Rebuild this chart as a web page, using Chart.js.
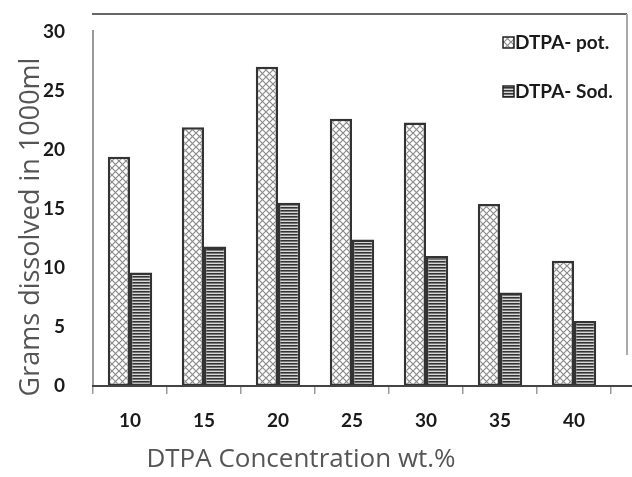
<!DOCTYPE html>
<html>
<head>
<meta charset="utf-8">
<script src="https://cdn.jsdelivr.net/npm/chart.js@4"></script>
<style>
  html, body { margin: 0; padding: 0; background: #fff; }
  #wrap { width: 632px; height: 477px; }
</style>
</head>
<body>
<div id="wrap"><canvas id="chart" width="632" height="477"></canvas></div>
<script>
// data
const concentrations = ["10", "15", "20", "25", "30", "35", "40"];
const potValues = [19.4, 21.9, 27.0, 22.6, 22.3, 15.4, 10.6];
const sodValues = [9.6, 11.8, 15.5, 12.4, 11.0, 7.9, 5.5];
const yTicks = [0, 5, 10, 15, 20, 25, 30];
const seriesNames = ["DTPA- pot.", "DTPA- Sod."];
const xTitle = "DTPA Concentration wt.%";
const yTitle = "Grams dissolved in 1000ml";

// hatch fills
function crossHatch() {
    const c = document.createElement("canvas");
    c.width = 7; c.height = 7;
    const g = c.getContext("2d");
    g.fillStyle = "#fff";
    g.fillRect(0, 0, 7, 7);
    g.strokeStyle = "#8a8a8a";
    g.lineWidth = 1.2;
    g.beginPath();
    g.moveTo(0, 0); g.lineTo(7, 7);
    g.moveTo(7, 0); g.lineTo(0, 7);
    g.stroke();
    return g.createPattern(c, "repeat");
}

function stripes() {
    const c = document.createElement("canvas");
    c.width = 4; c.height = 3;
    const g = c.getContext("2d");
    g.fillStyle = "#d8d8d8"; g.fillRect(0, 0, 4, 3);
    g.fillStyle = "#333"; g.fillRect(0, 0, 4, 1);
    g.fillStyle = "#777"; g.fillRect(0, 1, 4, 1);
    return g.createPattern(c, "repeat");
}

const potFill = crossHatch();
const sodFill = stripes();

// frame, legend and axis titles
const decor = {
    id: "decor",
    afterDraw(chart) {
        const ctx = chart.ctx;
        const area = chart.chartArea;
        ctx.save();

        // outer frame (top + right) and long x-axis line
        ctx.strokeStyle = "#666";
        ctx.lineWidth = 2;
        ctx.beginPath();
        ctx.moveTo(92, 14); ctx.lineTo(627, 14);
        ctx.stroke();
        ctx.strokeStyle = "#aaa";
        ctx.beginPath();
        ctx.moveTo(627, 14); ctx.lineTo(627, 355);
        ctx.stroke();
        ctx.strokeStyle = "#444";
        ctx.beginPath();
        ctx.moveTo(92, area.bottom); ctx.lineTo(632, area.bottom);
        ctx.stroke();

        // legend
        const fills = [potFill, sodFill];
        ctx.font = "bold 19px Lato";
        ctx.textBaseline = "middle";
        ctx.textAlign = "left";
        chart.data.datasets.forEach((ds, i) => {
            const y = 43 + i * 49;
            ctx.fillStyle = fills[i];
            ctx.fillRect(503, y - 6, 11, 11);
            ctx.strokeStyle = "#222";
            ctx.lineWidth = 1.5;
            ctx.strokeRect(503, y - 6, 11, 11);
            ctx.fillStyle = "#1a1a1a";
            ctx.fillText(ds.label, 515, y);
        });

        // axis titles
        ctx.fillStyle = "#555";
        ctx.textAlign = "center";
        ctx.font = "26px 'Open Sans'";
        ctx.fillText(xTitle, 301, 460);

        ctx.translate(31, 227);
        ctx.rotate(-Math.PI / 2);
        ctx.font = "27px 'Open Sans'";
        ctx.fillText(yTitle, 0, 0);
        ctx.restore();
    }
};

new Chart(document.getElementById("chart"), {
    type: "bar",
    data: {
        labels: concentrations,
        datasets: [{
            label: seriesNames[0],
            data: potValues,
            backgroundColor: potFill,
            borderColor: "#333",
            borderWidth: 2.5,
            borderSkipped: false
        }, {
            label: seriesNames[1],
            data: sodValues,
            backgroundColor: sodFill,
            borderColor: "#333",
            borderWidth: 2.5,
            borderSkipped: false
        }]
    },
    options: {
        responsive: false,
        animation: false,
        events: [],
        layout: { padding: { top: 15, right: 21, left: 0, bottom: 0 } },
        datasets: { bar: { categoryPercentage: 0.6, barPercentage: 1.0 } },
        plugins: {
            legend: { display: false },
            tooltip: { enabled: false }
        },
        scales: {
            x: {
                afterFit: s => { s.height = 91; },
                grid: {
                    drawOnChartArea: false,
                    tickLength: 8,
                    color: "#999",
                    lineWidth: 1.5
                },
                border: { display: false },
                ticks: {
                    color: "#1a1a1a",
                    padding: 15,
                    font: { family: "Lato", size: 19, weight: "bold" }
                }
            },
            y: {
                min: 0,
                max: 30,
                afterFit: s => { s.width = 93; },
                afterBuildTicks: s => { s.ticks = yTicks.map(v => ({ value: v })); },
                grid: { display: false },
                border: { display: true, color: "#999", width: 2 },
                ticks: {
                    color: "#1a1a1a",
                    padding: 20,
                    font: { family: "Lato", size: 19, weight: "bold" }
                }
            }
        }
    },
    plugins: [decor]
});
</script>
</body>
</html>
